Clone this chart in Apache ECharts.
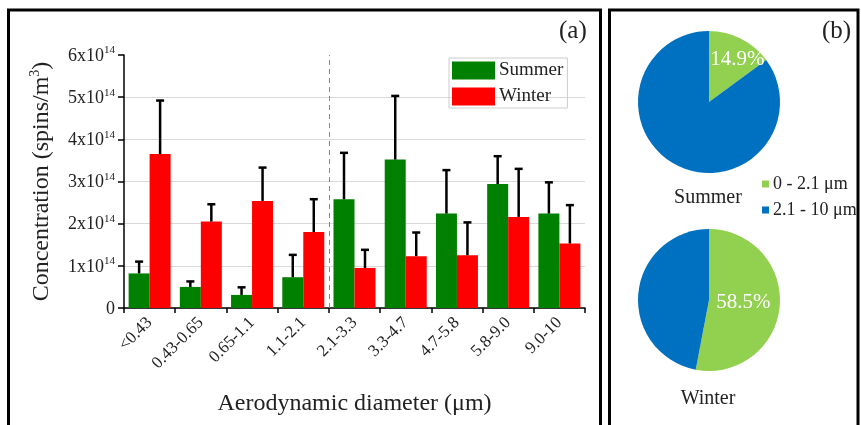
<!DOCTYPE html>
<html>
<head>
<meta charset="utf-8">
<script src="https://cdn.jsdelivr.net/npm/echarts@6/dist/echarts.min.js"></script>
<style>html,body{margin:0;padding:0;background:#fff;}#c{width:861px;height:425px;}</style>
</head>
<body>
<div id="c"></div>
<script>
// ---- data (concentration in units of 10^14 spins/m^3) ----
const categories = ['<0.43','0.43-0.65','0.65-1.1','1.1-2.1','2.1-3.3','3.3-4.7','4.7-5.8','5.8-9.0','9.0-10'];
const summer    = [0.82, 0.50, 0.31, 0.73, 2.58, 3.52, 2.24, 2.94, 2.24];
const summerErr = [0.28, 0.13, 0.18, 0.53, 1.10, 1.51, 1.03, 0.66, 0.74];
const winter    = [3.65, 2.05, 2.54, 1.80, 0.95, 1.23, 1.25, 2.16, 1.53];
const winterErr = [1.27, 0.41, 0.79, 0.78, 0.43, 0.56, 0.78, 1.14, 0.91];
const yTicks = [0, 1, 2, 3, 4, 5, 6];
const dividerBoundary = 4; // boundary between fine (<2.1) and coarse bins
const sizeClasses = ['0 - 2.1 μm', '2.1 - 10 μm'];
// slice sizes as drawn in the picture, and the printed labels
const summerShare = [14.9, 85.1];
const winterShare = [53.0, 47.0];
const summerLabel = '14.9%';
const winterLabel = '58.5%';

const SERIF = '"Liberation Serif", "Times New Roman", serif';
const GREEN = '#008000', RED = '#ff0000';
const PIE_GREEN = '#92d050', PIE_BLUE = '#0070c0';
const CAT_GAP = 0.18;

function errRender(sign) {
  return function (params, api) {
    const ci = api.value(0), v = api.value(1), e = api.value(2);
    const band = api.size([1, 0])[0];
    const off = sign * band * (1 - CAT_GAP) / 4;
    const b = api.coord([ci, v]);
    const t = api.coord([ci, v + e]);
    const x = b[0] + off;
    return {
      type: 'group',
      children: [
        {type: 'line', shape: {x1: x, y1: b[1], x2: x, y2: t[1]}, style: {stroke: '#000', lineWidth: 2.5}},
        {type: 'line', shape: {x1: x - 4, y1: t[1], x2: x + 4, y2: t[1]}, style: {stroke: '#000', lineWidth: 2.5}}
      ]
    };
  };
}

function pieData(share, label) {
  return sizeClasses.map((n, i) => ({
    name: n, value: share[i],
    itemStyle: {color: i === 0 ? PIE_GREEN : PIE_BLUE},
    label: {show: i === 0, formatter: label}
  }));
}

const chart = echarts.init(document.getElementById('c'), null, {renderer: 'canvas'});
const option = {
  animation: false,
  textStyle: {fontFamily: SERIF},
  grid: {left: 124, right: 276, top: 55, bottom: 117, containLabel: false},
  legend: [
    {
      data: ['Summer', 'Winter'], orient: 'vertical', left: 449, top: 58,
      itemWidth: 43, itemHeight: 18, itemGap: 7, icon: 'rect',
      padding: [3, 4, 2, 3], borderColor: '#cccccc', borderWidth: 1,
      textStyle: {fontFamily: SERIF, fontSize: 19, color: '#222', padding: [0, 0, 0, -1]},
      selectedMode: false
    },
    {
      data: sizeClasses, orient: 'vertical', left: 757, top: 170,
      itemWidth: 7, itemHeight: 7, itemGap: 8, icon: 'rect',
      textStyle: {fontFamily: SERIF, fontSize: 18, color: '#222', padding: [0, 0, 0, -1]},
      selectedMode: false
    }
  ],
  xAxis: [
    {
      type: 'category', data: categories, gridIndex: 0,
      axisLine: {lineStyle: {color: '#000', width: 1.5}},
      axisTick: {show: true, length: 5, lineStyle: {color: '#000', width: 1.5}},
      axisLabel: {rotate: 45, fontSize: 17, color: '#222', fontFamily: SERIF, margin: 12, interval: 0},
      name: 'Aerodynamic diameter (μm)', nameLocation: 'middle', nameGap: 84,
      nameTextStyle: {fontSize: 24, color: '#222', fontFamily: SERIF}
    },
    {type: 'value', min: 0, max: categories.length, show: false, gridIndex: 0}
  ],
  yAxis: {
    type: 'value', min: yTicks[0], max: yTicks[yTicks.length - 1], interval: 1,
    axisLine: {show: true, lineStyle: {color: '#000', width: 1.5}},
    axisTick: {show: true, length: 6, lineStyle: {color: '#000', width: 1.5}},
    splitLine: {show: true, lineStyle: {color: ['#d9d9d9', '#d9d9d9', '#d9d9d9', '#d9d9d9', '#d9d9d9', '#d9d9d9', 'rgba(0,0,0,0)'], width: 1}},
    axisLabel: {
      margin: 9, color: '#222',
      formatter: v => v === 0 ? '{a|0}' : '{a|' + v + 'x10}{s|14}',
      rich: {
        a: {fontSize: 18, fontFamily: SERIF, color: '#222', verticalAlign: 'bottom', lineHeight: 20},
        s: {fontSize: 11, fontFamily: SERIF, color: '#222', verticalAlign: 'bottom', lineHeight: 20, padding: [0, 0, 9, 0]}
      }
    },
    name: '{n|Concentration (spins/m}{s|3}{n|)}', nameLocation: 'middle', nameGap: 70, nameRotate: 90,
    nameTextStyle: {
      rich: {
        n: {fontSize: 24, fontFamily: SERIF, color: '#222', verticalAlign: 'bottom', lineHeight: 28},
        s: {fontSize: 14, fontFamily: SERIF, color: '#222', verticalAlign: 'bottom', lineHeight: 28, padding: [0, 0, 12, 0]}
      }
    }
  },
  series: [
    {name: 'Summer', type: 'bar', data: summer, itemStyle: {color: GREEN}, barGap: '0%', barCategoryGap: (CAT_GAP * 100) + '%', z: 2},
    {name: 'Winter', type: 'bar', data: winter, itemStyle: {color: RED}, barGap: '0%', barCategoryGap: (CAT_GAP * 100) + '%', z: 2},
    {name: 'Summer err', type: 'custom', renderItem: errRender(-1), data: summer.map((v, i) => [i, v, summerErr[i]]), encode: {x: 0, y: 1}, z: 3},
    {name: 'Winter err', type: 'custom', renderItem: errRender(1), data: winter.map((v, i) => [i, v, winterErr[i]]), encode: {x: 0, y: 1}, z: 3},
    {
      name: 'divider', type: 'line', xAxisIndex: 1, data: [], silent: true,
      markLine: {symbol: 'none', silent: true, label: {show: false},
        lineStyle: {color: '#888', type: [5, 4], width: 1},
        data: [{xAxis: dividerBoundary}]}
    },
    {
      name: 'Summer share', type: 'pie', center: [709, 102], radius: 71, startAngle: 90, clockwise: true,
      data: pieData(summerShare, summerLabel),
      label: {position: 'inside', color: '#fff', fontSize: 21, fontFamily: SERIF},
      labelLayout: {dx: 11, dy: -8}, labelLine: {show: false}, emphasis: {disabled: true}
    },
    {
      name: 'Winter share', type: 'pie', center: [709, 300], radius: 71, startAngle: 90, clockwise: true,
      data: pieData(winterShare, winterLabel),
      label: {position: 'inside', color: '#fff', fontSize: 21, fontFamily: SERIF},
      labelLayout: {dx: -4, dy: -1}, labelLine: {show: false}, emphasis: {disabled: true}
    }
  ],
  graphic: [
    {type: 'rect', shape: {x: 8.5, y: 10, width: 592, height: 430}, style: {fill: 'none', stroke: '#000', lineWidth: 3}, silent: true},
    {type: 'rect', shape: {x: 609.5, y: 10, width: 248.5, height: 430}, style: {fill: 'none', stroke: '#000', lineWidth: 3}, silent: true},
    {type: 'text', left: 559, top: 19, style: {text: '(a)', font: '25px ' + SERIF, fill: '#222'}},
    {type: 'text', left: 822, top: 19, style: {text: '(b)', font: '25px ' + SERIF, fill: '#222'}},
    {type: 'text', x: 708, y: 198, style: {text: 'Summer', font: '20px ' + SERIF, fill: '#222', textAlign: 'center', textVerticalAlign: 'middle'}},
    {type: 'text', x: 708, y: 399, style: {text: 'Winter', font: '20px ' + SERIF, fill: '#222', textAlign: 'center', textVerticalAlign: 'middle'}}
  ]
};
chart.setOption(option);
</script>
</body>
</html>
